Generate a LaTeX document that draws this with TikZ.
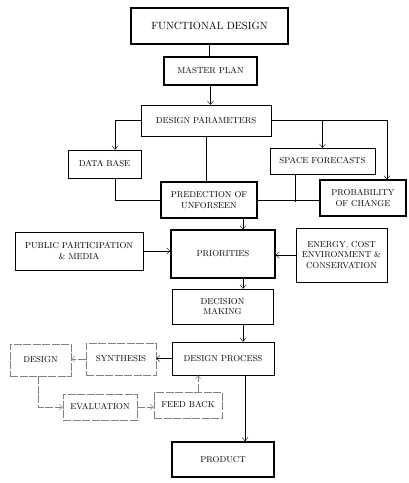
\documentclass[tikz,border=0pt]{standalone}
\usepackage{amsmath, amssymb}
\usepackage{xcolor}
\usepackage{tikz}
\usetikzlibrary{arrows.meta}

\begin{document}
\begin{tikzpicture}[x=1pt, y=-1pt, >={Straight Barb[length=3.5pt,width=6pt]},
    box/.style={rectangle, draw, align=center, font=\fontsize{8.6}{10.5}\selectfont, inner sep=1pt},
    heavy/.style={box, line width=1.1pt},
    faint/.style={box, draw=black!50, dash pattern=on 8pt off 1.5pt},
    link/.style={draw=black!50, dash pattern=on 8pt off 1.5pt}]
    \useasboundingbox (0,0) rectangle (408,483);

    \node[heavy, line width=1.6pt, font=\fontsize{10.5}{12}\selectfont, minimum width=157pt, minimum height=36pt] (functional) at (209.5,26) {FUNCTIONAL DESIGN};
    \node[heavy, minimum width=93pt, minimum height=28pt] (plan) at (210.5,71) {MASTER PLAN};
    \node[box, minimum width=130pt, minimum height=31pt] (params) at (206,120.5) {DESIGN PARAMETERS};
    \node[box, minimum width=73pt, minimum height=28pt] (database) at (104.5,164) {DATA BASE};
    \node[box, minimum width=105pt, minimum height=26pt] (space) at (322.5,161) {SPACE FORECASTS};
    \node[heavy, minimum width=96pt, minimum height=36pt] (pred) at (209,200) {PREDECTION OF\\UNFORSEEN};
    \node[heavy, minimum width=86pt, minimum height=36pt] (prob) at (363,198) {PROBABILITY\\OF CHANGE};
    \node[box, minimum width=128pt, minimum height=38pt] (public) at (79,251) {PUBLIC PARTICIPATION\\\& MEDIA};
    \node[heavy, minimum width=104pt, minimum height=48pt] (prio) at (223,254) {PRIORITIES};
    \node[box, minimum width=91pt, minimum height=54pt] (energy) at (341.5,255) {ENERGY, COST\\ENVIRONMENT \&\\CONSERVATION};
    \node[box, minimum width=101pt, minimum height=35pt] (decision) at (222.5,306.5) {DECISION\\MAKING};
    \node[box, minimum width=102pt, minimum height=33pt] (process) at (223,358.5) {DESIGN PROCESS};
    \node[faint, minimum width=70pt, minimum height=32pt] (synth) at (121,359) {SYNTHESIS};
    \node[faint, minimum width=61pt, minimum height=32pt] (design) at (40.5,360) {DESIGN};
    \node[faint, minimum width=74pt, minimum height=26pt] (eval) at (100,407) {EVALUATION};
    \node[faint, minimum width=68pt, minimum height=26pt] (feed) at (188,405) {FEED BACK};
    \node[heavy, line width=1.6pt, minimum width=102pt, minimum height=35pt] (product) at (223,459.5) {PRODUCT};
    \coordinate (sfend) at (295,202);

    % upper part
    \draw (functional.south) -- (functional.south |- plan.north);
    \draw[->] (plan.south) -- (plan.south |- params.north);
    \draw[->] (params.west) -| ([xshift=10.5pt]database.north);
    \draw[->] (params.east) -| ([xshift=24pt]prob.north);
    \draw[->] (params.east -| space.north) -- (space.north);
    \draw (params.south) -- (params.south |- pred.north);
    \draw ([xshift=10.5pt]database.south) |- (pred.west);
    \draw (pred.east) -- (pred.east -| prob.west);
    \draw ([xshift=-27.5pt]space.south) -- (sfend);

    % middle part
    \draw[->] ([xshift=34pt]pred.south) -- ([xshift=20pt]prio.north);
    \draw[->] (public.east) -- (public.east -| prio.west);
    \draw[->] (energy.west) -- (energy.west -| prio.east);
    \draw[->] ([xshift=20pt]prio.south) -- ([xshift=20.5pt]decision.north);
    \draw[->] ([xshift=20.5pt]decision.south) -- ([xshift=20pt]process.north);

    % design loop
    \draw[->] (process.west) -- (process.west -| synth.east);
    \draw[->, link] (synth.west) -- (synth.west -| design.east);
    \draw[->, link] ([xshift=-2.5pt]design.south) |- (eval.west);
    \draw[->, link] (eval.east) -- (eval.east -| feed.west);
    \draw[->, link] ([xshift=10pt]feed.north) -- ([xshift=-25pt]process.south);
    \draw[->] ([xshift=22pt]process.south) -- ([xshift=22pt]product.north);
\end{tikzpicture}
\end{document}
